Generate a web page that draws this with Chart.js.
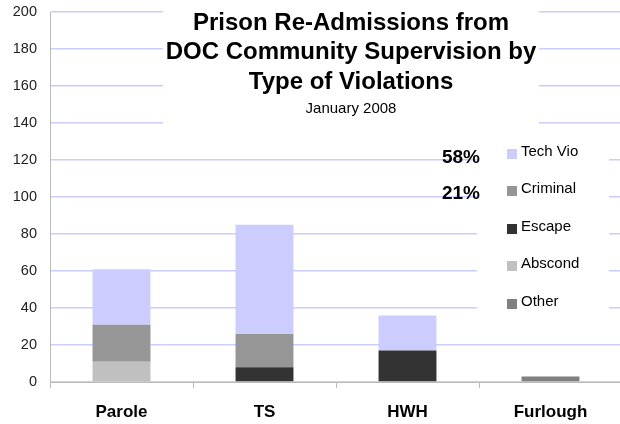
<!DOCTYPE html>
<html>
<head>
<meta charset="utf-8">
<script src="https://cdn.jsdelivr.net/npm/chart.js@4/dist/chart.umd.min.js"></script>
<style>
html,body{margin:0;padding:0;background:#fff;overflow:hidden;}
#wrap{width:620px;height:424px;position:relative;overflow:hidden;}
</style>
</head>
<body>
<div id="wrap"><canvas id="c" width="622" height="424"></canvas></div>
<script>
const categories = ['Parole', 'TS', 'HWH', 'Furlough'];
const abscond  = [11, 0, 0, 0];
const escape   = [0, 8, 17, 0];
const other    = [0, 0, 0, 3];
const criminal = [20, 18, 0, 0];
const techVio  = [30, 59, 19, 0];
const yTicks = [0, 20, 40, 60, 80, 100, 120, 140, 160, 180, 200];
const titleLines = ['Prison Re-Admissions from', 'DOC Community Supervision by', 'Type of Violations'];
const subtitle = 'January 2008';
const legendOrder = ['Tech Vio', 'Criminal', 'Escape', 'Abscond', 'Other'];

const FONT = "'Liberation Sans', Arial, sans-serif";
const colors = {
  'Tech Vio': '#ccccff',
  'Criminal': '#969696',
  'Escape': '#333333',
  'Abscond': '#c0c0c0',
  'Other': '#808080'
};

const sum = a => a.reduce((s, v) => s + v, 0);
const grand = sum(abscond) + sum(escape) + sum(other) + sum(criminal) + sum(techVio);
const pctTech = Math.round(sum(techVio) / grand * 100) + '%';
const pctCrim = Math.round(sum(criminal) / grand * 100) + '%';

const overlay = {
  id: 'overlay',
  afterDraw(chart) {
    const ctx = chart.ctx;
    ctx.save();
    ctx.fillStyle = '#ffffff';
    ctx.fillRect(163, 0, 376, 128);
    ctx.fillStyle = '#000';
    ctx.textAlign = 'center';
    ctx.textBaseline = 'alphabetic';
    ctx.font = 'bold 24px ' + FONT;
    const cx = 351;
    ctx.fillText(titleLines[0], cx, 30);
    ctx.fillText(titleLines[1], cx, 59);
    ctx.fillText(titleLines[2], cx, 89);
    ctx.font = '15px ' + FONT;
    ctx.fillText(subtitle, cx, 113);

    ctx.fillStyle = '#ffffff';
    ctx.fillRect(477, 135, 132, 190);
    const ys = [152, 189, 227, 264, 302];
    ctx.textAlign = 'left';
    ctx.textBaseline = 'middle';
    ctx.font = '15px ' + FONT;
    legendOrder.forEach((lab, i) => {
      ctx.fillStyle = colors[lab];
      ctx.fillRect(507, ys[i] - 3, 10, 10);
      ctx.fillStyle = '#000';
      ctx.fillText(lab, 521, ys[i]);
    });

    ctx.font = 'bold 19px ' + FONT;
    ctx.textAlign = 'right';
    ctx.textBaseline = 'alphabetic';
    ctx.fillStyle = '#000';
    ctx.fillText(pctTech, 480, 163);
    ctx.fillText(pctCrim, 480, 199);
    ctx.restore();
  }
};

const mk = (label, data) => ({
  label, data,
  backgroundColor: colors[label],
  borderWidth: 0,
  categoryPercentage: 1,
  barPercentage: 0.405
});

new Chart(document.getElementById('c'), {
  type: 'bar',
  data: {
    labels: categories,
    datasets: [
      mk('Abscond', abscond),
      mk('Escape', escape),
      mk('Other', other),
      mk('Criminal', criminal),
      mk('Tech Vio', techVio)
    ]
  },
  options: {
    responsive: false,
    devicePixelRatio: 1,
    animation: false,
    layout: { padding: { top: 12, right: 0, left: 0, bottom: 0 } },
    plugins: {
      legend: { display: false },
      title: { display: false },
      tooltip: { enabled: false }
    },
    scales: {
      x: {
        stacked: true,
        afterFit(s) { s.height = 42; s.paddingLeft = 0; s.paddingRight = 0; },
        grid: {
          display: true,
          drawOnChartArea: false,
          drawTicks: true,
          tickLength: 6,
          color: '#bbbbbb',
          offset: true
        },
        border: { color: '#bbbbbb', width: 1 },
        ticks: {
          color: '#000',
          padding: 14,
          font: { family: FONT, size: 17, weight: 'bold' }
        }
      },
      y: {
        stacked: true,
        min: 0,
        max: 200,
        afterFit(s) { s.width = 50; s.paddingTop = 0; s.paddingBottom = 0; },
        afterBuildTicks(s) { s.ticks = yTicks.map(v => ({ value: v })); },
        grid: {
          color: 'rgb(204,204,255)',
          lineWidth: 1.5,
          drawTicks: false
        },
        border: { color: '#bbbbbb', width: 1 },
        ticks: {
          color: '#222',
          padding: 13,
          font: { family: FONT, size: 14.5 }
        }
      }
    }
  },
  plugins: [overlay]
});
</script>
</body>
</html>
